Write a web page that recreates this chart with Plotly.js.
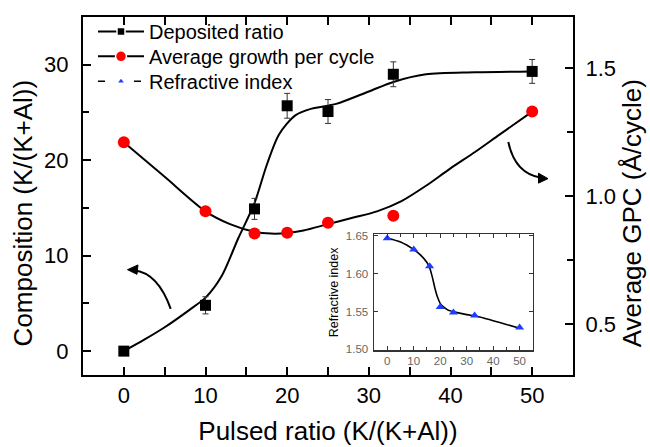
<!DOCTYPE html>
<html>
<head>
<meta charset="utf-8">
<script src="https://cdn.plot.ly/plotly-3.0.1.min.js"></script>
<style>html,body{margin:0;padding:0;background:#fff;}#chart{width:650px;height:447px;}</style>
</head>
<body>
<div id="chart"></div>
<script>
// ---- data ----
var pulsedRatio = [0, 10, 16, 20, 25, 33, 50];
var depositedRatio = [0, 4.8, 14.9, 25.7, 25.1, 29.0, 29.3];
var depositedErr = [0, 0.9, 1.1, 1.3, 1.25, 1.3, 1.25];
var gpc = [1.21, 0.94, 0.853, 0.856, 0.895, 0.923, 1.33];
var refractiveIndex = [1.647, 1.632, 1.610, 1.556, 1.549, 1.545, 1.529];

// fitted guide curves
var depFitX = [0, 2.5, 5, 8, 10, 12, 14, 16, 17.5, 19, 21, 23, 26, 30, 33, 37, 43, 50];
var depFitY = [0, 1.2, 2.5, 4.3, 5.6, 7.9, 11.8, 15.5, 19.5, 22.7, 24.7, 25.4, 25.9, 27.2, 28.2, 29.0, 29.2, 29.3];
var gpcFitX = [0, 5, 10, 13, 16, 18, 20, 22, 25, 28, 31, 34, 37, 40, 43, 46, 50];
var gpcFitY = [1.21, 1.075, 0.94, 0.89, 0.86, 0.853, 0.855, 0.865, 0.89, 0.915, 0.94, 0.98, 1.04, 1.108, 1.172, 1.24, 1.33];
var riFitX = [0, 5, 10, 12.5, 15, 16, 17, 18, 19, 20, 21, 23, 26, 30, 35, 40, 45, 50];
var riFitY = [1.647, 1.642, 1.632, 1.625, 1.615, 1.608, 1.596, 1.581, 1.569, 1.561, 1.557, 1.552, 1.549, 1.546, 1.543, 1.538, 1.533, 1.528];

var xTicks = [0, 10, 20, 30, 40, 50];
var seriesNames = ['Deposited ratio', 'Average growth per cycle', 'Refractive index'];
var xTitle = 'Pulsed ratio (K/(K+Al))';
var yTitle = 'Composition (K/(K+Al))';
var y2Title = 'Average GPC (Å/cycle)';
var insetYTitle = 'Refractive index';

// ---- layout helpers ----
var FONT = 'Liberation Sans, Arial, Helvetica, sans-serif';
var M = {l: 83, r: 77, t: 14, b: 72};
var W = 650, H = 447;
var PW = W - M.l - M.r, PH = H - M.t - M.b;
function px(x) { return ((x - M.l) / PW).toFixed(4); }
function py(y) { return ((H - M.b - y) / PH).toFixed(4); }

var traces = [
  // guide curves
  {x: depFitX, y: depFitY, mode: 'lines', line: {color: '#000', width: 2, shape: 'spline', smoothing: 0.8},
   showlegend: false, hoverinfo: 'skip', xaxis: 'x', yaxis: 'y'},
  {x: gpcFitX, y: gpcFitY, mode: 'lines', line: {color: '#000', width: 2, shape: 'spline', smoothing: 0.8},
   showlegend: false, hoverinfo: 'skip', xaxis: 'x', yaxis: 'y2'},
  // data markers
  {x: pulsedRatio, y: depositedRatio, mode: 'markers', name: seriesNames[0], showlegend: false,
   marker: {symbol: 'square', size: 11, color: '#000'},
   error_y: {type: 'data', array: depositedErr, visible: true, color: '#333', thickness: 1, width: 3},
   xaxis: 'x', yaxis: 'y'},
  {x: pulsedRatio, y: gpc, mode: 'markers', name: seriesNames[1], showlegend: false,
   marker: {symbol: 'circle', size: 12, color: '#ff0000'}, xaxis: 'x', yaxis: 'y2'},
  // inset
  {x: riFitX, y: riFitY, mode: 'lines', line: {color: '#000', width: 1.6, shape: 'spline', smoothing: 0.8},
   showlegend: false, hoverinfo: 'skip', xaxis: 'x2', yaxis: 'y3'},
  {x: pulsedRatio, y: refractiveIndex, mode: 'markers', name: seriesNames[2], showlegend: false,
   marker: {symbol: 'triangle-up', size: 8, color: '#1f3cff'}, xaxis: 'x2', yaxis: 'y3'},
  // legend entries (one legend box per row)
  {x: [null], y: [null], mode: 'lines+markers', name: seriesNames[0], legend: 'legend',
   line: {color: '#000', width: 2}, marker: {symbol: 'square', size: 8, color: '#000', line: {color: '#fff', width: 1.5}}, xaxis: 'x', yaxis: 'y'},
  {x: [null], y: [null], mode: 'lines+markers', name: seriesNames[1], legend: 'legend2',
   line: {color: '#000', width: 2}, marker: {symbol: 'circle', size: 11, color: '#ff0000', line: {color: '#fff', width: 1.5}}, xaxis: 'x', yaxis: 'y'},
  {x: [null], y: [null], mode: 'lines+markers', name: seriesNames[2], legend: 'legend3',
   line: {color: '#000', width: 1.5, dash: '7px,29px'}, marker: {symbol: 'triangle-up', size: 5, color: '#1f3cff'}, xaxis: 'x', yaxis: 'y'}
];

var axisCommon = {showgrid: false, zeroline: false, showline: true, linecolor: '#000', linewidth: 2,
  ticks: 'inside', ticklen: 8, tickwidth: 2, tickcolor: '#000',
  tickfont: {family: FONT, size: 22, color: '#000'}};

function legendAt(topPx) {
  return {x: px(93), y: py(topPx), xanchor: 'left', yanchor: 'top', bgcolor: 'rgba(0,0,0,0)',
    font: {family: FONT, size: 20, color: '#000'}, itemwidth: 46};
}

var layout = {
  width: W, height: H,
  margin: M,
  paper_bgcolor: '#fff', plot_bgcolor: '#fff',
  font: {family: FONT, color: '#000'},
  showlegend: true,
  legend: legendAt(9),
  legend2: legendAt(34),
  legend3: legendAt(59),
  xaxis: Object.assign({}, axisCommon, {
    domain: [0, 1], anchor: 'y', range: [-5, 55], tickmode: 'array', tickvals: xTicks,
    mirror: 'allticks',
    minor: {dtick: 5, tick0: 0, ticks: 'inside', ticklen: 4, tickwidth: 2, tickcolor: '#000'},
    title: {text: xTitle, font: {family: FONT, size: 26, color: '#000'}, standoff: 14}
  }),
  yaxis: Object.assign({}, axisCommon, {
    range: [-2.5, 35], dtick: 10, tick0: 0, anchor: 'x',
    minor: {dtick: 5, tick0: 0, ticks: 'inside', ticklen: 6, tickwidth: 2, tickcolor: '#000'},
    ticklabelstandoff: 8
  }),
  yaxis2: Object.assign({}, axisCommon, {
    overlaying: 'y', side: 'right', anchor: 'x', range: [0.3, 1.7], dtick: 0.5, tick0: 0.5, tickformat: '.1f',
    minor: {dtick: 0.25, tick0: 0.25, ticks: 'inside', ticklen: 6, tickwidth: 2, tickcolor: '#000'},
    ticklabelstandoff: 6
  }),
  xaxis2: {domain: [0.594, 0.918], anchor: 'y3', range: [-5, 55], tickmode: 'array', tickvals: xTicks,
    showgrid: false, zeroline: false, showline: true, linecolor: '#333', linewidth: 1.5, mirror: 'allticks',
    ticks: 'inside', ticklen: 4, tickwidth: 1, tickcolor: '#333',
    minor: {dtick: 5, tick0: 0, ticks: 'inside', ticklen: 3, tickwidth: 1, tickcolor: '#333'},
    tickfont: {family: FONT, size: 11.5, color: '#666'}},
  yaxis3: {domain: [0.0693, 0.3925], anchor: 'x2', range: [1.499, 1.652], dtick: 0.05, tick0: 1.5, tickformat: '.2f',
    showgrid: false, zeroline: false, showline: true, linecolor: '#333', linewidth: 1.5, mirror: 'allticks',
    ticks: 'inside', ticklen: 4, tickwidth: 1, tickcolor: '#333', ticklabelstandoff: 2,
    tickfont: {family: FONT, size: 11.5, color: '#666'},
    title: {text: insetYTitle, font: {family: FONT, size: 12.5, color: '#000'}, standoff: 4}},
  annotations: [
    {text: yTitle, xref: 'paper', yref: 'paper', x: px(23), y: py(212), xanchor: 'center', yanchor: 'middle',
     textangle: -90, showarrow: false, font: {family: FONT, size: 26, color: '#000'}},
    {text: y2Title, xref: 'paper', yref: 'paper', x: px(632), y: py(212), xanchor: 'center', yanchor: 'middle',
     textangle: -90, showarrow: false, font: {family: FONT, size: 26, color: '#000'}}
  ],
  shapes: [
    // left curved arrow
    {type: 'path', xref: 'paper', yref: 'paper', layer: 'above',
     path: 'M ' + px(170.7) + ' ' + py(308.3) + ' Q ' + px(158) + ' ' + py(272) + ' ' + px(134) + ' ' + py(269.3),
     line: {color: '#000', width: 2}},
    {type: 'path', xref: 'paper', yref: 'paper', layer: 'above',
     path: 'M ' + px(127.5) + ' ' + py(268.8) + ' L ' + px(138) + ' ' + py(264) + ' L ' + px(137) + ' ' + py(273.5) + ' Z',
     fillcolor: '#000', line: {color: '#000', width: 1}},
    // right curved arrow
    {type: 'path', xref: 'paper', yref: 'paper', layer: 'above',
     path: 'M ' + px(508.3) + ' ' + py(140) + ' Q ' + px(515) + ' ' + py(172) + ' ' + px(541) + ' ' + py(176),
     line: {color: '#000', width: 2}},
    {type: 'path', xref: 'paper', yref: 'paper', layer: 'above',
     path: 'M ' + px(548) + ' ' + py(177) + ' L ' + px(538.5) + ' ' + py(171.5) + ' L ' + px(538.5) + ' ' + py(181.5) + ' Z',
     fillcolor: '#000', line: {color: '#000', width: 1}}
  ]
};

Plotly.newPlot('chart', traces, layout, {staticPlot: true, displayModeBar: false});
</script>
</body>
</html>
